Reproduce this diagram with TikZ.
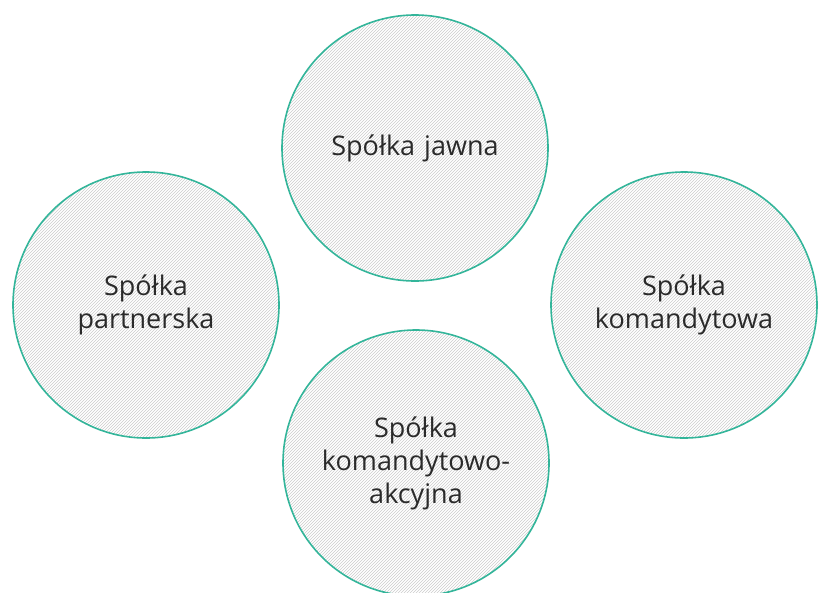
\documentclass[tikz,border=0pt]{standalone}
\usepackage{fontspec}
\setmainfont{Open Sans}
\usetikzlibrary{patterns}
\definecolor{teal1}{HTML}{33B59A}
\definecolor{txt}{HTML}{2A2A2A}
\tikzset{
  bubble/.style={circle, draw=teal1, line width=1.6pt, minimum size=266pt, inner sep=0pt,
    pattern=north east lines, pattern color=black!20, text=txt, align=center,
    font=\fontsize{27}{33}\selectfont, text width=240pt}
}
\begin{document}
\begin{tikzpicture}[x=1pt,y=-1pt]
\useasboundingbox (0,0) rectangle (818,592);
\begin{scope}
\clip (0,0) rectangle (818,592);
\node[bubble] (jawna) at (415,148) {Spółka jawna};
\node[bubble] (partner) at (146,305) {Spółka\\partnerska};
\node[bubble] (komand) at (684,305) {Spółka\\komandytowa};
\node[bubble] (ka) at (416,463) {Spółka\\komandytowo-\\akcyjna};
\end{scope}
\end{tikzpicture}
\end{document}
